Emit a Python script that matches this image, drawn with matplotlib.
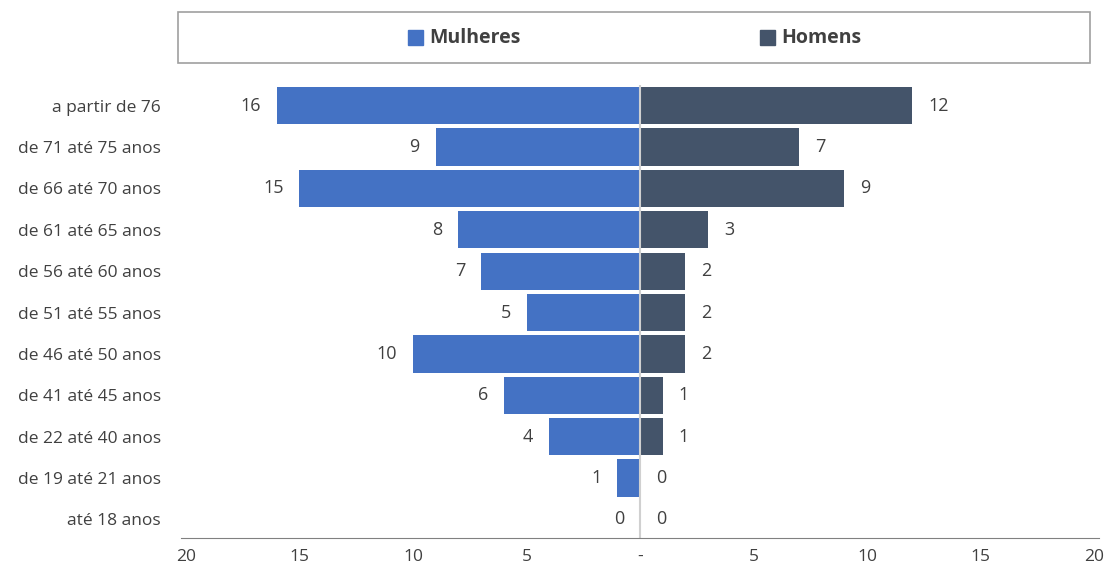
import matplotlib
matplotlib.use("Agg")
import matplotlib.pyplot as plt
from matplotlib.patches import Rectangle

plt.rcParams["font.family"] = ["Open Sans", "DejaVu Sans"]

categorias = ["até 18 anos", "de 19 até 21 anos", "de 22 até 40 anos", "de 41 até 45 anos",
              "de 46 até 50 anos", "de 51 até 55 anos", "de 56 até 60 anos", "de 61 até 65 anos",
              "de 66 até 70 anos", "de 71 até 75 anos", "a partir de 76"]
mulheres = [0, 1, 4, 6, 10, 5, 7, 8, 15, 9, 16]
homens = [0, 0, 1, 1, 2, 2, 2, 3, 9, 7, 12]
ticks = [-20, -15, -10, -5, 0, 5, 10, 15, 20]
tick_labels = ["20", "15", "10", "5", "-", "5", "10", "15", "20"]

cor_m = "#4472C4"
cor_h = "#44546A"

fig = plt.figure(figsize=(11.10, 5.74), dpi=100)
ax = fig.add_axes([186 / 1110, 1 - 538 / 574, (1094 - 186) / 1110, (538 - 85) / 574])

y = list(range(len(categorias)))
ax.barh(y, [-v for v in mulheres], height=0.9, color=cor_m)
ax.barh(y, homens, height=0.9, color=cor_h)
ax.axvline(0, color="#d0d0d0", lw=1.5)

for yi, m, h in zip(y, mulheres, homens):
    ax.text(-m - 0.7, yi, str(m), ha="right", va="center", fontsize=13, color="#404040")
    ax.text(h + 0.7, yi, str(h), ha="left", va="center", fontsize=13, color="#404040")

ax.set_xlim(-20, 20)
ax.set_ylim(-0.45, 10.5)
ax.set_yticks(y)
ax.set_yticklabels(categorias, fontsize=12.5, color="#404040")
ax.set_xticks(ticks)
ax.set_xticklabels(tick_labels, fontsize=12.5, color="#404040")
ax.tick_params(axis="y", length=0, pad=18)
ax.tick_params(axis="x", length=0, pad=8)
for s in ["top", "right", "left"]:
    ax.spines[s].set_visible(False)
ax.spines["bottom"].set_color("#808080")
ax.spines["bottom"].set_bounds(-20.2, 20.2)

# caixa da legenda
fig.patches.append(Rectangle((178 / 1110, 1 - 63 / 574), (1090 - 178) / 1110, 51 / 574,
                             transform=fig.transFigure, fill=False, edgecolor="#a0a0a0", lw=1.2))
for xr, cor, nome in [(408, cor_m, "Mulheres"), (760, cor_h, "Homens")]:
    fig.patches.append(Rectangle((xr / 1110, 1 - 45 / 574), 15 / 1110, 15 / 574,
                                 transform=fig.transFigure, color=cor))
    fig.text((xr + 21) / 1110, 1 - 38 / 574, nome, fontsize=14, fontweight="bold",
             color="#404040", va="center", ha="left")

fig.savefig("out.png", dpi=100)
